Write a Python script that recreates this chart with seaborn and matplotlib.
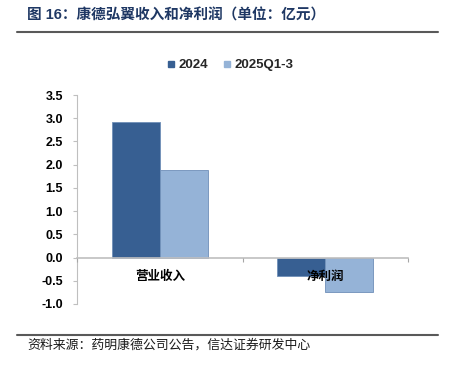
import matplotlib
matplotlib.use('Agg')
import matplotlib.pyplot as plt
import seaborn as sns
import pandas as pd
from matplotlib.lines import Line2D

categories = ['营业收入', '净利润']
series = ['2024', '2025Q1-3']
values_2024 = [2.92, -0.40]
values_2025 = [1.89, -0.74]
yticks = [-1.0, -0.5, 0.0, 0.5, 1.0, 1.5, 2.0, 2.5, 3.0, 3.5]
title = '图 16：康德弘翼收入和净利润（单位：亿元）'
source = '资料来源：药明康德公司公告，信达证券研发中心'
colors = ['#375F92', '#95B3D7']

sns.set_theme(style='white')
plt.rcParams['font.family'] = ['Liberation Sans', 'Noto Sans CJK SC', 'DejaVu Sans']

df = pd.DataFrame({
    '类别': categories * 2,
    '系列': [series[0]] * len(categories) + [series[1]] * len(categories),
    '值': values_2024 + values_2025,
})

fig = plt.figure(figsize=(4.56, 3.66), dpi=100)
ax = fig.add_axes([0.169, 0.1694, 0.726, 0.571])
sns.barplot(data=df, x='类别', y='值', hue='系列', order=categories,
            hue_order=series, palette=colors, width=0.58, ax=ax,
            legend=False, linewidth=0.6, edgecolor='#6F8FB8', saturation=1)

ax.set_xlim(-0.5, 1.5)
ax.set_ylim(-1.0, 3.5)
ax.set_axisbelow(False)
ax.grid(False)
ax.set_xlabel('')
ax.set_ylabel('')
for s in ['top', 'right']:
    ax.spines[s].set_visible(False)
ax.spines['bottom'].set_position(('data', 0))
ax.spines['bottom'].set_color('#BFBFBF')
ax.spines['bottom'].set_linewidth(1.2)
ax.spines['left'].set_color('#BFBFBF')
ax.spines['left'].set_linewidth(0.8)

ax.set_yticks(yticks)
ax.set_yticklabels([f'{v:.1f}' for v in yticks], fontweight='bold', fontsize=9,
                   family=['Liberation Sans'])
ax.tick_params(axis='y', left=True, length=3, width=0.8, color='#BFBFBF',
               pad=7, labelcolor='black')

ax.set_xticks(range(len(categories)))
ax.set_xticklabels(categories, fontweight='bold', fontsize=9,
                   family=['Noto Sans CJK SC'])
ax.tick_params(axis='x', bottom=False, length=0, pad=9, labelcolor='black')
ax.set_xticks([-0.5, 0.5, 1.5], minor=True)
ax.tick_params(axis='x', which='minor', bottom=True, length=3, width=0.8,
               color='#A6A6A6', direction='out')

handles = [Line2D([0], [0], marker='s', linestyle='', markersize=5,
                  markerfacecolor=c, markeredgecolor=c) for c in colors]
leg = fig.legend(handles, series, loc='center', bbox_to_anchor=(0.505, 0.822),
                 ncol=2, frameon=False, handlelength=0.6, handletextpad=0.3,
                 columnspacing=1.1, prop={'family': 'Liberation Sans',
                                          'weight': 'bold', 'size': 9.5})

fig.text(0.059, 0.959, title, fontsize=10.5, fontweight='bold', color='#1F3864',
         va='center', ha='left', family=['Liberation Sans', 'Noto Sans CJK SC'])
fig.add_artist(Line2D([0.037, 0.96], [0.9126, 0.9126], color='#595959', lw=1.5,
                      transform=fig.transFigure))
fig.add_artist(Line2D([0.037, 0.96], [0.0847, 0.0847], color='#595959', lw=1.5,
                      transform=fig.transFigure))
fig.text(0.059, 0.058, source, fontsize=9.3, color='#1A1A1A', va='center',
         ha='left', family=['Noto Sans CJK SC'])

fig.savefig('out.png', dpi=100)
